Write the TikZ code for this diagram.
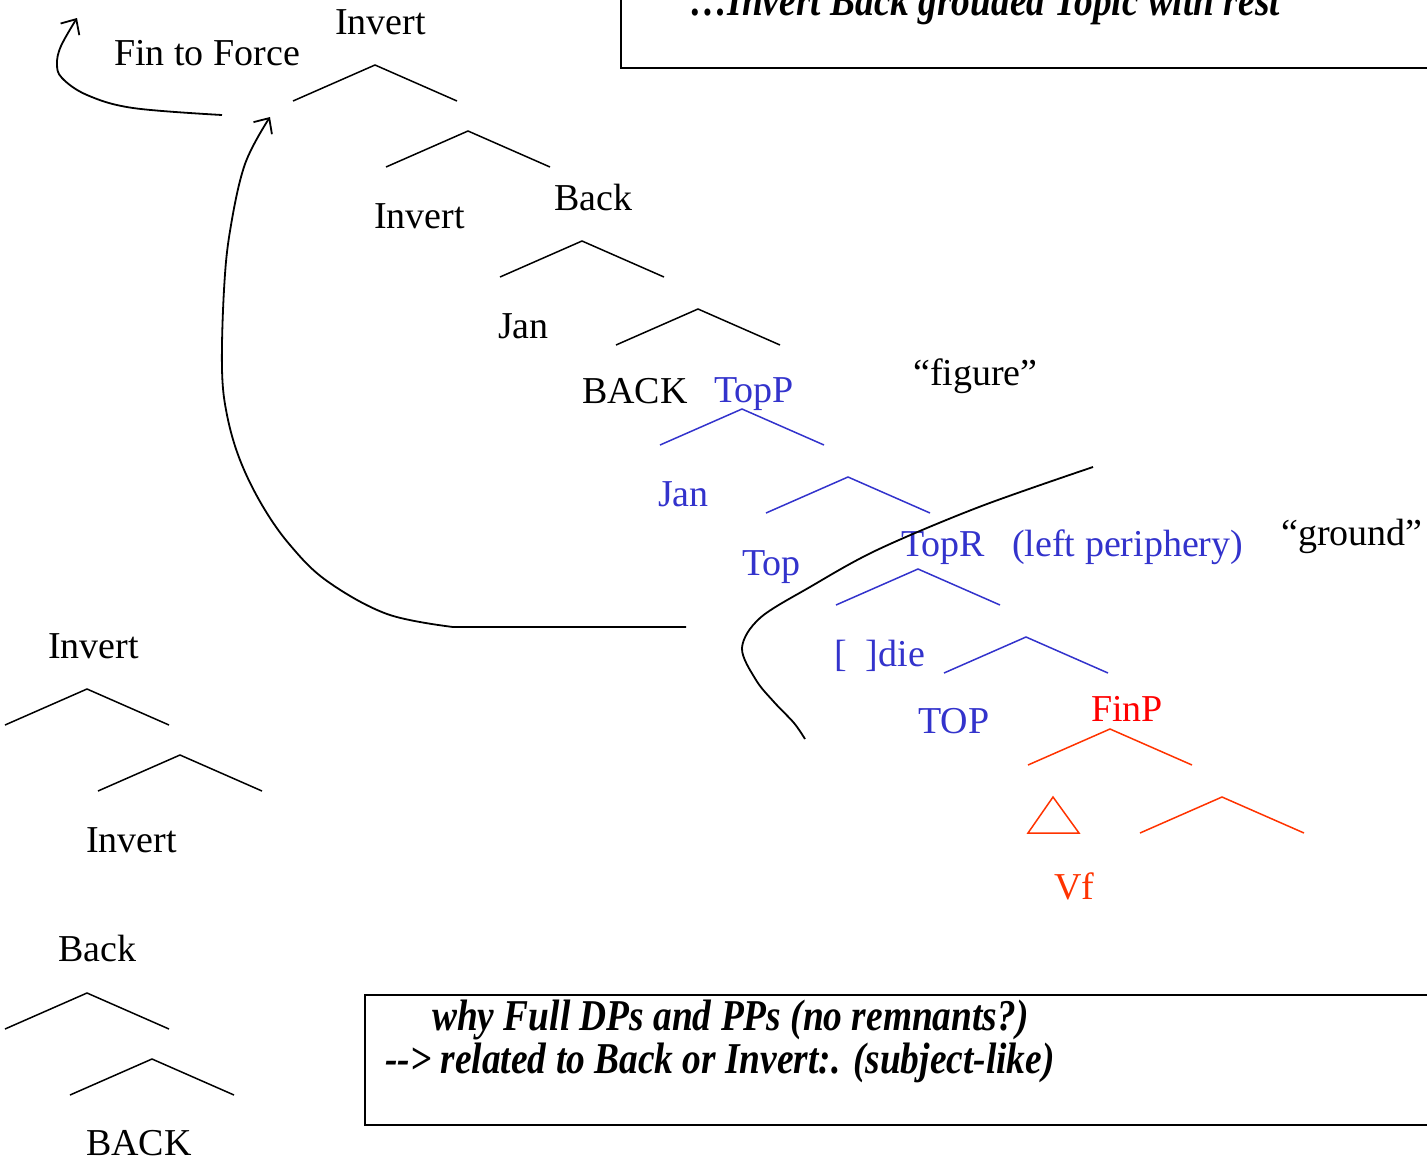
\documentclass[tikz,border=0pt]{standalone}
\usepackage{fontspec}
\setmainfont{Liberation Serif}
\newfontfamily\notefont[FakeStretch=0.85]{Liberation Serif}
\usetikzlibrary{arrows.meta}

\definecolor{topblue}{RGB}{51,51,204}
\definecolor{finred}{RGB}{255,0,0}
\definecolor{finorange}{RGB}{255,51,0}

\begin{document}
\begin{tikzpicture}[x=1pt, y=-1pt,
    lab/.style={anchor=base west, inner sep=0pt, font=\fontsize{38}{44}\selectfont},
    note/.style={anchor=base west, inner sep=0pt, font=\notefont\bfseries\itshape\fontsize{44}{50}\selectfont},
    branch/.style={line width=1.5pt},
    move/.style={line width=1.8pt, -{Straight Barb[length=12pt,width=22pt]}}]
    \useasboundingbox (0,0) rectangle (1427,1160);

    % Main tree, black part
    \foreach \ax/\ay in {375/65, 468/131, 582/241, 698/309}
        \draw[branch] (\ax-82,\ay+36) -- (\ax,\ay) -- (\ax+82,\ay+36);
    \node[lab] (inv1) at (335,34) {Invert};
    \node[lab] (fin2force) at (114,65) {Fin to Force};
    \node[lab] (inv2) at (374,228) {Invert};
    \node[lab] (back1) at (554,210) {Back};
    \node[lab] (jan1) at (498,338) {Jan};
    \node[lab] (back2) at (582,403) {BACK};
    \node[lab] (figure) at (913,385) {“figure”};
    \node[lab] (ground) at (1281,545) {“ground”};

    % Topic layer
    \foreach \ax/\ay in {742/409, 848/477, 918/569, 1026/637}
        \draw[branch, topblue] (\ax-82,\ay+36) -- (\ax,\ay) -- (\ax+82,\ay+36);
    \node[lab, topblue] (topp) at (714,402) {TopP};
    \node[lab, topblue] (jan2) at (658,506) {Jan};
    \node[lab, topblue] (top1) at (742,575) {Top};
    \node[lab, topblue] (topr) at (901,556) {TopR};
    \node[lab, topblue] (leftp) at (1012,556) {(left periphery)};
    \node[lab, topblue] (die) at (834,666) {[~~]die};
    \node[lab, topblue] (top2) at (918,733) {TOP};

    % FinP
    \foreach \ax/\ay in {1110/729, 1222/797}
        \draw[branch, finorange] (\ax-82,\ay+36) -- (\ax,\ay) -- (\ax+82,\ay+36);
    \draw[branch, finorange] (1028,833) -- (1053,797) -- (1079,833) -- cycle;
    \node[lab, finred] (finp) at (1091,721) {FinP};
    \node[lab, finorange] (vf) at (1054,899) {Vf};

    % Small trees on the left
    \foreach \ax/\ay in {87/689, 180/755, 87/993, 152/1059}
        \draw[branch] (\ax-82,\ay+36) -- (\ax,\ay) -- (\ax+82,\ay+36);
    \node[lab] (inv3) at (48,658) {Invert};
    \node[lab] (inv4) at (86,852) {Invert};
    \node[lab] (back3) at (58,961) {Back};
    \node[lab] (back4) at (86,1155) {BACK};

    % Movement arrows
    \coordinate (finfrom) at (686,627);
    \coordinate (finto) at (270,117);
    \coordinate (forcefrom) at (222,115);
    \coordinate (forceto) at (77,18);
    \draw[move] (finfrom) -- (453,627) -- plot[smooth, tension=0.6] coordinates {(453,627) (387,614) (327,581) (290,545) (262,505) (240,460) (227,415) (222,369) (224,290) (230,231) (245,164) (finto)};
    \draw[move] plot[smooth, tension=0.6] coordinates {(forcefrom) (133,108) (87,95) (62,78) (57,64) (61,46) (forceto)};

    % Figure / ground boundary
    \draw[line width=1.8pt] plot[smooth, tension=0.55] coordinates {(1093,467) (979,507) (877,550) (810,587) (760,618) (742,648) (756,680) (774,702) (794,723) (805,739)};

    % Note boxes
    \draw[line width=2pt] (621,0) -- (621,68) -- (1427,68);
    \node[note] (note1) at (690,15) {…Invert Back grouded Topic with rest};
    \draw[line width=2pt] (1427,995) -- (365,995) -- (365,1125) -- (1427,1125);
    \node[note] (note2) at (432,1030) {why Full DPs and PPs (no remnants?)};
    \node[note] (note3) at (385,1073) {-{}-> related to Back or Invert:. (subject-like)};
\end{tikzpicture}
\end{document}
